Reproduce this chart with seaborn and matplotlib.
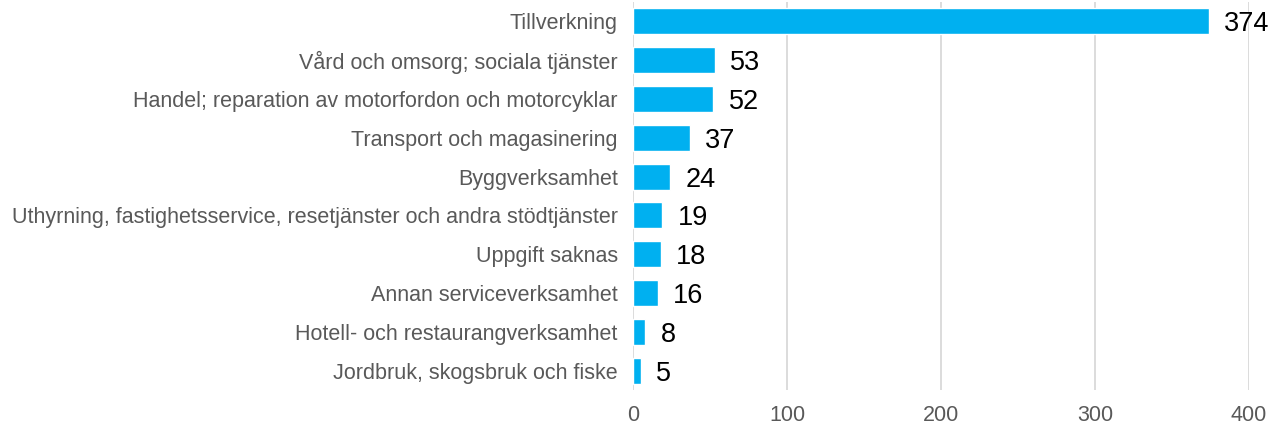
import matplotlib
matplotlib.use("Agg")
import matplotlib.pyplot as plt
import seaborn as sns
import pandas as pd

categories = [
    "Tillverkning",
    "Vård och omsorg; sociala tjänster",
    "Handel; reparation av motorfordon och motorcyklar",
    "Transport och magasinering",
    "Byggverksamhet",
    "Uthyrning, fastighetsservice, resetjänster och andra stödtjänster",
    "Uppgift saknas",
    "Annan serviceverksamhet",
    "Hotell- och restaurangverksamhet",
    "Jordbruk, skogsbruk och fiske",
]
values = [374, 53, 52, 37, 24, 19, 18, 16, 8, 5]
xticks = [0, 100, 200, 300, 400]

sns.set_theme(style="white")
plt.rcParams['font.family'] = ['Liberation Sans', 'DejaVu Sans']

df = pd.DataFrame({"cat": categories, "val": values})

fig = plt.figure(figsize=(12.72, 4.25), dpi=100)
ax = fig.add_axes([633/1272, 1 - 390/425, (1249-633)/1272, (390-2)/425])

sns.barplot(data=df, x="val", y="cat", color="#00B0F0", saturation=1,
            width=0.67, ax=ax, orient="h", zorder=3)

ax.set_xlim(0, 400)
ax.set_xticks(xticks)
ax.set_xticklabels([str(t) for t in xticks])
ax.xaxis.grid(True, color="#D9D9D9", linewidth=1.3, zorder=0)
ax.set_axisbelow(True)
for s in ax.spines.values():
    s.set_visible(False)
ax.set_xlabel("")
ax.set_ylabel("")
ax.tick_params(axis="both", length=0, labelsize=15.5, colors="#595959")
ax.tick_params(axis="y", pad=11)
ax.tick_params(axis="x", pad=11)

for i, v in enumerate(values):
    ax.text(v + 10, i, str(v), va="center_baseline", ha="left", fontsize=19.5,
            color="black", clip_on=False, zorder=5)

fig.savefig("out.png", dpi=100)
